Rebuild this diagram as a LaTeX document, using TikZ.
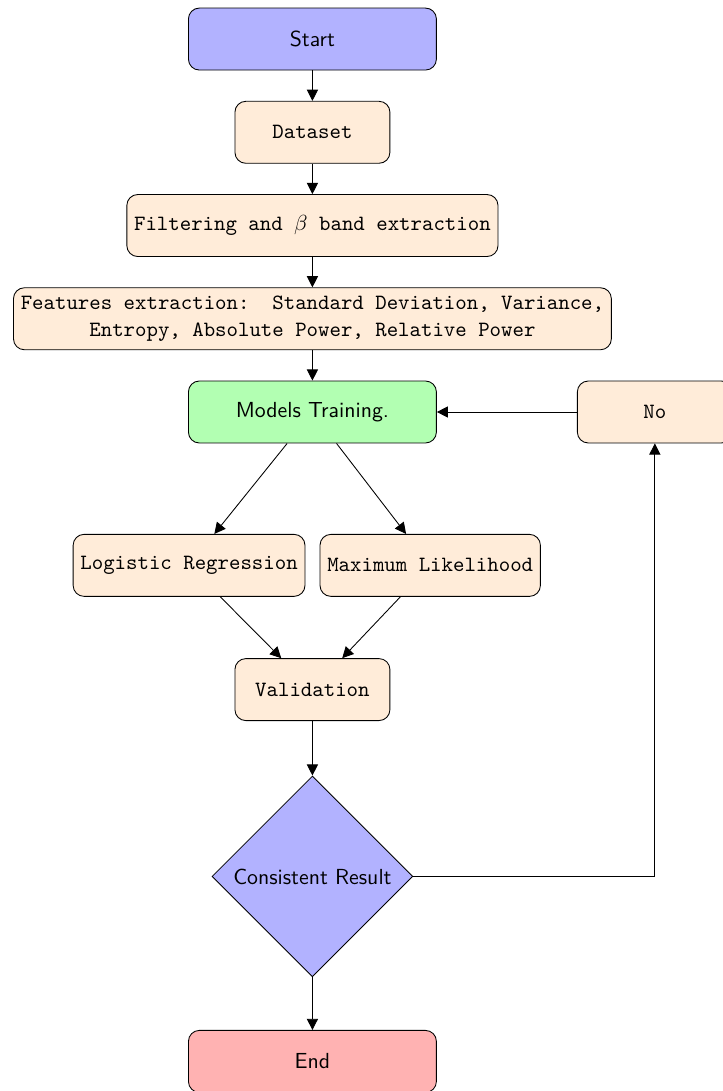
\documentclass[tikz,border=0pt]{standalone}
\usepackage{amsmath,amssymb}
\usepackage{xcolor}
\usepackage{tikz}
\usetikzlibrary{positioning,arrows.meta,shapes.geometric}

\begin{document}
\begin{tikzpicture}[
    startstop/.style={draw=black, fill=blue!30, minimum width=4cm, minimum height=1cm, align=center, rounded corners=5pt, font=\sffamily},
    process/.style={draw=black, fill=orange!15, minimum width=2.5cm, minimum height=1cm, align=center, rounded corners=5pt, font=\ttfamily},
    decision/.style={diamond, draw=black, fill=blue!30, aspect=1, inner sep=0pt, minimum width=3.24cm, minimum height=3.24cm, align=center, font=\sffamily},
    arr/.style={-{Triangle[length=1.8mm, width=1.8mm]}}
]
    \useasboundingbox (0,0) rectangle (11.66,-17.6);

    % Main column
    \node[startstop] (start) at (5.04,-0.63) {Start};
    \node[process, below=0.49cm of start] (dataset) {Dataset};
    \node[process, below=0.49cm of dataset] (filter) {Filtering and $\beta$ band extraction};
    \node[process, below=0.49cm of filter] (features) {Features extraction:\ \ Standard Deviation, Variance,\\ Entropy, Absolute Power, Relative Power};
    \node[startstop, fill=green!30, below=0.49cm of features] (training) {Models Training.};

    % Models
    \node[process, below=1.46cm of training, xshift=-1.99cm] (logistic) {Logistic Regression};
    \node[process, below=1.46cm of training, xshift=1.9cm] (maxlike) {Maximum Likelihood};
    \node[process, below=0.99cm of logistic, xshift=1.99cm] (validation) {Validation};

    % Decision
    \node[decision, below=0.88cm of validation] (consistent) {Consistent Result};
    \node[startstop, fill=red!30, below=0.85cm of consistent] (end) {End};
    \node[process, right=2.26cm of training] (no) {No};

    \draw[arr] (start) -- (dataset);
    \draw[arr] (dataset) -- (filter);
    \draw[arr] (filter) -- (features);
    \draw[arr] (features) -- (training);
    \draw[arr] (training) -- (logistic);
    \draw[arr] (training) -- (maxlike);
    \draw[arr] (logistic) -- (validation);
    \draw[arr] (maxlike) -- (validation);
    \draw[arr] (validation) -- (consistent);
    \draw[arr] (consistent) -- (end);
    \draw[arr] (consistent) -| (no);
    \draw[arr] (no) -- (training);
\end{tikzpicture}
\end{document}
